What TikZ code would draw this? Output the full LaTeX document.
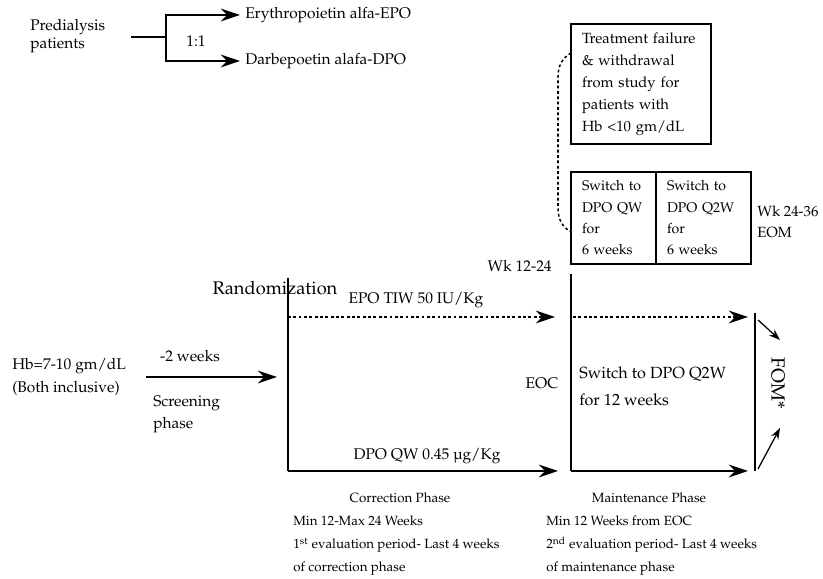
\documentclass[tikz,border=0pt]{standalone}
\usepackage[T1]{fontenc}
\usepackage{mathpazo}
\usetikzlibrary{arrows.meta, positioning}

\begin{document}
\begin{tikzpicture}[
    line/.style={line width=1.2pt},
    arr/.style={-{Stealth[length=4.8mm,width=3.2mm]}, line width=1.2pt},
    small arr/.style={-{Stealth[length=2.8mm,width=2mm]}, line width=0.9pt},
    dots/.style={line width=1.1pt, dash pattern=on 2pt off 1.8pt},
    lbl/.style={font=\fontsize{11}{16}\selectfont, inner sep=0pt},
    note/.style={font=\fontsize{9.5}{16.4}\selectfont, inner sep=0pt, align=left},
    box/.style={draw, line width=1pt, font=\fontsize{10.5}{15.6}\selectfont,
        align=left, inner ysep=0pt, inner xsep=0.275cm, outer sep=0pt}
]
    \useasboundingbox (0,0) rectangle (20.575,14.475);

    % Allocation at the top
    \node[lbl, anchor=west, align=left, font=\fontsize{11}{12.8}\selectfont]
        (pred) at (0.75,13.575) {Predialysis\\patients};
    \node[lbl, anchor=west, inner xsep=0.125cm] (epo) at (6.0,14.1) {Erythropoietin alfa-EPO};
    \node[lbl, anchor=west, inner xsep=0.125cm] (dpo) at (6.0,12.95) {Darbepoetin alafa-DPO};
    \node[lbl] (ratio) at (4.9,13.45) {1:1};
    \coordinate (fork in) at (3.275,13.55);
    \coordinate (fork) at (4.15,13.55);
    \draw[line] (fork in) -- (fork);
    \draw[arr] (fork) |- (epo.west);
    \draw[arr] (fork) |- (dpo.west);

    % Boxes on the upper right
    \node[box, anchor=north west, text width=2.95cm, minimum height=3cm]
        (fail) at (14.275,13.875)
        {Treatment failure\\ \& withdrawal\\ from study for\\ patients with\\ Hb <10 gm/dL};
    \node[box, anchor=north west, text width=1.575cm, minimum height=2.3cm,
        font=\fontsize{10}{15.2}\selectfont]
        (swqw) at (14.275,10.175) {\mbox{Switch to}\\ \mbox{DPO QW}\\ for\\ \mbox{6 weeks}};
    \node[box, anchor=north west, text width=1.825cm, minimum height=2.3cm,
        font=\fontsize{10}{15.2}\selectfont]
        (swq2w) at (swqw.north east) {\mbox{Switch to}\\ \mbox{DPO Q2W}\\ for\\ \mbox{6 weeks}};
    \node[lbl, anchor=west, align=left, font=\fontsize{10.5}{15}\selectfont]
        (eom) at (18.925,8.925) {Wk 24-36\\EOM};

    % Dotted link between the boxes
    \coordinate (loop a) at ([yshift=-0.725cm]fail.north west);
    \coordinate (loop b) at ([yshift=-1.5cm]swqw.north west);
    \draw[dots] (loop a) to[out=210,in=90] ++(-0.325,-0.6) -- ++(0,-3.275)
        to[out=-90,in=150] (loop b);

    % Screening
    \node[lbl, anchor=west, align=left, font=\fontsize{11}{16.4}\selectfont]
        (hb) at (0.3,5.0375) {Hb=7-10 gm/dL\\(Both inclusive)};
    \node[lbl] (two wk) at (4.75,5.575) {-2 weeks};
    \node[lbl, anchor=west, align=left, font=\fontsize{11}{15.6}\selectfont]
        (scr) at (3.825,4.125) {Screening\\phase};
    \coordinate (scr a) at (3.65,5.05);

    % Correction phase
    \node[lbl, font=\fontsize{13}{16}\selectfont] (rand) at (6.875,7.275) {Randomization};
    \coordinate (rand top) at (7.2,7.525);
    \coordinate (rand bot) at (7.2,2.7);
    \coordinate (epo arm) at (7.2,6.55);
    \draw[arr, shorten >=0.275cm] (scr a) -- (scr a -| rand top);
    \draw[line] (rand top) -- (rand bot);
    \node[lbl] (epo dose) at (10.4,6.975) {EPO TIW 50 IU/Kg};
    \node[lbl] (dpo dose) at (10.675,3.075) {DPO QW 0.45 \textmu g/Kg};

    % Maintenance phase
    \coordinate (eoc top) at (14.275,7.625);
    \coordinate (eoc bot) at (14.275,2.7);
    \coordinate (eoc epo) at (14.275,6.55);
    \coordinate (fom top) at (18.875,6.65);
    \coordinate (fom bot) at (18.875,2.7);
    \draw[arr, dots, shorten >=0.4cm] (epo arm) -- (eoc epo);
    \draw[arr, shorten >=0.325cm] (rand bot) -- (eoc bot);
    \draw[line] (eoc top) -- (eoc bot);
    \draw[arr, dots, shorten >=0.175cm, shorten <=0.05cm] (eoc epo) -- (eoc epo -| fom top);
    \draw[arr, shorten >=0.175cm] (eoc bot) -- (fom bot);
    \node[lbl, anchor=east] (wk12) at (13.8,7.825) {Wk 12-24};
    \node[lbl] (eoc) at (13.55,4.9) {EOC};
    \node[lbl, anchor=west, align=left, font=\fontsize{11.5}{19.2}\selectfont]
        (sw12) at (14.475,4.8125) {Switch to DPO Q2W\\for 12 weeks};

    % End of maintenance
    \draw[line] (fom top) -- (fom bot);
    \node[lbl, rotate=-90, font=\fontsize{13.5}{16}\selectfont] (fom) at (19.45,4.9) {FOM*};
    \coordinate (fom a) at (18.95,6.475);
    \coordinate (fom b) at (18.95,2.75);
    \draw[small arr] (fom a) -- +(0.55,-0.5);
    \draw[small arr] (fom b) -- +(0.55,1.025);

    % Phase notes
    \node[note, font=\fontsize{9.5}{16}\selectfont] (corr head) at (10.0,2.025) {Correction Phase};
    \node[note, anchor=west] (corr) at (7.325,0.825)
        {Min 12-Max 24 Weeks\\ 1\textsuperscript{st} evaluation period- Last 4 weeks\\ of correction phase};
    \node[note, font=\fontsize{9.5}{16}\selectfont] (main head) at (16.225,2.025) {Maintenance Phase};
    \node[note, anchor=west] (main) at (13.65,0.825)
        {Min 12 Weeks from EOC\\ 2\textsuperscript{nd} evaluation period- Last 4 weeks\\ of maintenance phase};
\end{tikzpicture}
\end{document}
